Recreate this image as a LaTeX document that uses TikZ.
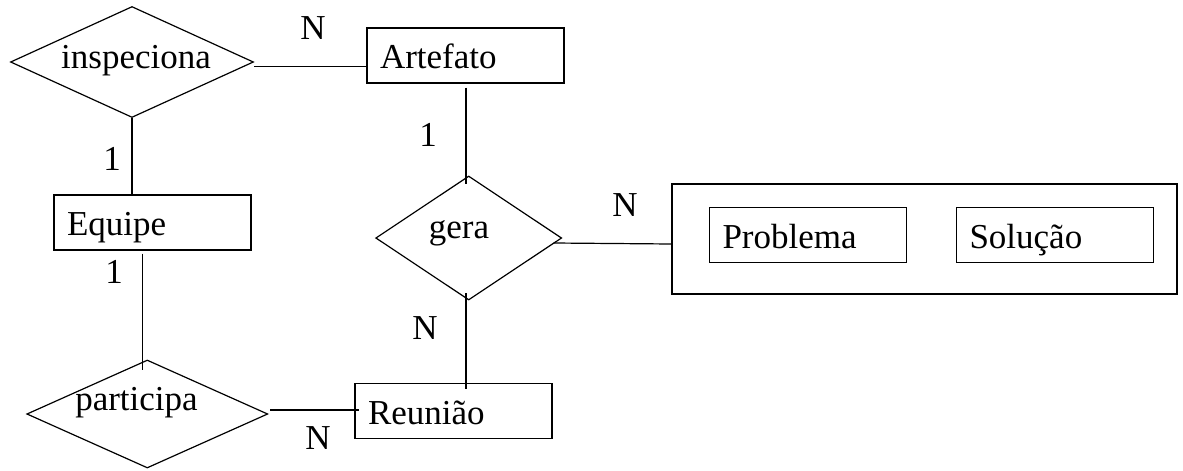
\documentclass[tikz,border=0pt]{standalone}
\usepackage{fontspec}
\setmainfont{Liberation Serif}
\usetikzlibrary{shapes.geometric,calc}

\tikzset{
  erline/.style={line width=1.2pt, black},
  entity/.style={draw, erline, rectangle, inner xsep=13pt, inner ysep=0pt,
    text width=171pt, align=left, minimum height=55pt,
    text height=26pt, text depth=0pt},
  aggregate/.style={draw, erline, rectangle, inner sep=0pt},
  relation/.style={draw, erline, diamond, inner sep=0pt},
  reltext/.style={anchor=base, inner sep=0pt},
  card/.style={inner sep=0pt}
}

\begin{document}
\begin{tikzpicture}[x=1pt, y=-1pt, font=\fontsize{35pt}{41pt}\selectfont]
  \useasboundingbox (0,0) rectangle (1183,471);

  % entities
  \node[entity] (art) at (465.5,55.5) {Artefato};
  \node[entity] (eqp) at (152.5,222.5) {Equipe};
  \node[entity] (reu) at (453.5,411) {Reunião};

  % aggregate holding Problema and Solução
  \node[aggregate, minimum width=505pt, minimum height=110pt] (agg) at (924.5,239) {};
  \node[entity] (prob) at (808,235) {Problema};
  \node[entity] (sol) at (1055,235) {Solução};

  % relationships
  \node[relation, minimum width=243pt, minimum height=111pt] (insp) at (132,62) {};
  \node[reltext] (inspT) at (136,68.5) {inspeciona};
  \node[relation, minimum width=186pt, minimum height=124pt] (gera) at (468.7,238) {};
  \node[reltext] (geraT) at (459,238) {gera};
  \node[relation, minimum width=241pt, minimum height=108pt] (part) at (147.3,414) {};
  \node[reltext] (partT) at (136.5,410) {participa};

  % connectors
  \draw[erline] ($(insp.east)+(0,4.7)$) -- ($(insp.east -| art.west)+(0,4.7)$);
  \draw[erline] (insp.south) -- (insp.south |- eqp.north);
  \draw[erline] ($(eqp.south)+(-10,3)$) -- ($(eqp.south |- part.north)+(-10,10.7)$);
  \draw[erline] ($(part.east)+(2,-4)$) -- ($(reu.west)+(5,-1)$);
  \draw[erline] ($(art.south)+(0.5,4)$) -- ($(gera.north)+(-2.7,9)$);
  \draw[erline] ($(gera.south)+(-2.7,-7.3)$) -- ($(reu.north)+(12.5,6)$);
  \draw[erline] ($(gera.east)+(-8.7,5)$) -- ($(agg.west)+(0,5)$);

  % cardinalities
  \node[card] (cInspArt) at (313,28) {N};
  \node[card] (cInspEqp) at (112,159) {1};
  \node[card] (cEqpPart) at (114,272) {1};
  \node[card] (cArtGera) at (428,135) {1};
  \node[card] (cGeraReu) at (425,328) {N};
  \node[card] (cPartReu) at (318,438) {N};
  \node[card] (cGeraAgg) at (625,205) {N};
\end{tikzpicture}
\end{document}
